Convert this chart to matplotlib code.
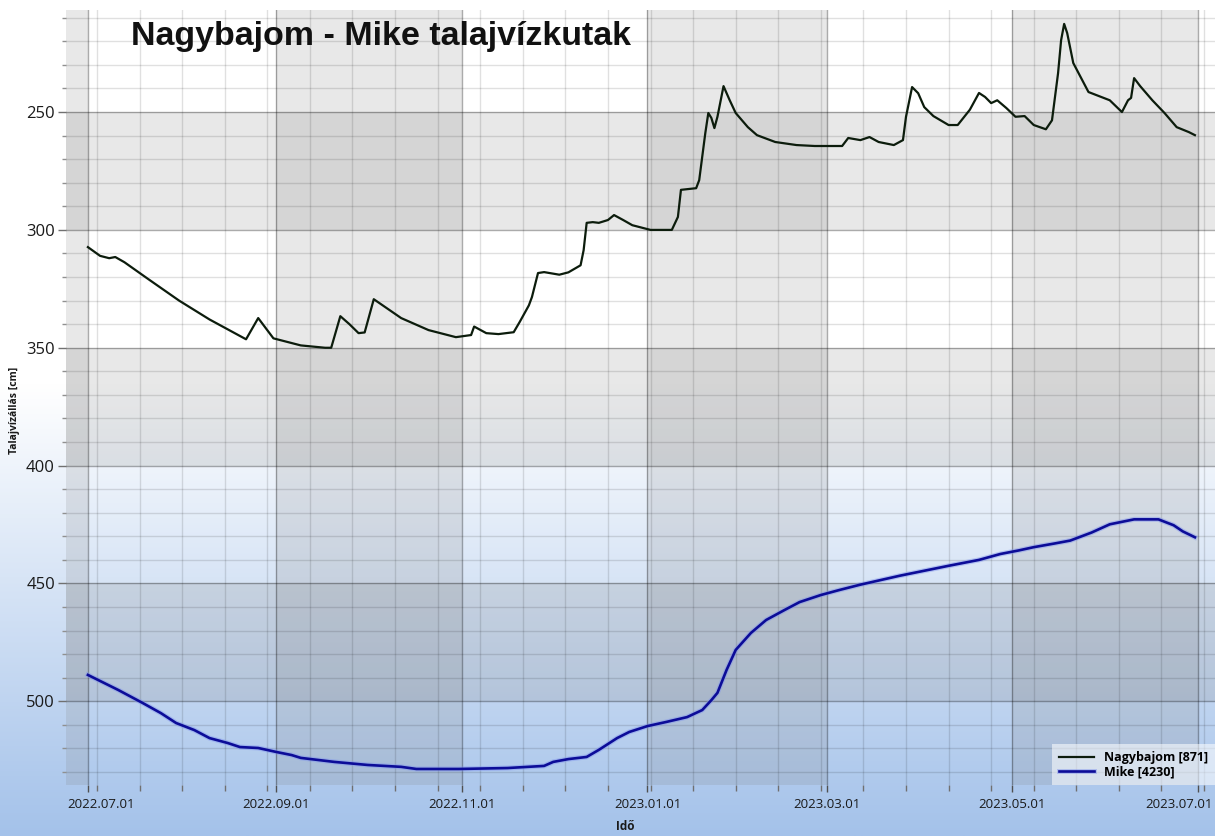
import matplotlib as mpl
mpl.use('Agg')
import numpy as np
import pandas as pd
import matplotlib.pyplot as plt
import matplotlib.dates as mdates
import matplotlib.patheffects as pe
from matplotlib import font_manager
from matplotlib.ticker import MultipleLocator
from matplotlib.transforms import ScaledTranslation

# Nagybajom [871] well, water level below surface (cm)
nagy_dates = ['2022-07-01', '2022-07-05', '2022-07-08', '2022-07-10', '2022-07-13', '2022-07-21',
              '2022-07-31', '2022-08-10', '2022-08-20', '2022-08-22', '2022-08-26', '2022-08-31',
              '2022-09-09', '2022-09-17', '2022-09-19', '2022-09-22', '2022-09-25', '2022-09-28',
              '2022-09-30', '2022-10-03', '2022-10-12', '2022-10-21', '2022-10-30', '2022-11-04',
              '2022-11-05', '2022-11-09', '2022-11-13', '2022-11-18', '2022-11-20', '2022-11-23',
              '2022-11-24', '2022-11-26', '2022-11-28', '2022-12-03', '2022-12-06', '2022-12-10',
              '2022-12-11', '2022-12-12', '2022-12-14', '2022-12-16', '2022-12-19', '2022-12-21',
              '2022-12-24', '2022-12-27', '2022-12-30', '2023-01-02', '2023-01-09', '2023-01-11',
              '2023-01-12', '2023-01-17', '2023-01-18', '2023-01-20', '2023-01-21', '2023-01-22',
              '2023-01-23', '2023-01-24', '2023-01-26', '2023-01-28', '2023-01-30', '2023-02-03',
              '2023-02-06', '2023-02-12', '2023-02-19', '2023-02-25', '2023-03-06', '2023-03-08',
              '2023-03-12', '2023-03-15', '2023-03-18', '2023-03-23', '2023-03-26', '2023-03-27',
              '2023-03-29', '2023-03-31', '2023-04-02', '2023-04-05', '2023-04-10', '2023-04-13',
              '2023-04-17', '2023-04-20', '2023-04-22', '2023-04-24', '2023-04-26', '2023-04-29',
              '2023-05-02', '2023-05-05', '2023-05-08', '2023-05-12', '2023-05-14', '2023-05-16',
              '2023-05-17', '2023-05-18', '2023-05-19', '2023-05-21', '2023-05-26', '2023-06-02',
              '2023-06-06', '2023-06-08', '2023-06-09', '2023-06-10', '2023-06-12', '2023-06-16',
              '2023-06-20', '2023-06-24', '2023-06-28', '2023-06-30']
nagy_vals = [307.3, 311.0, 312.0, 311.5, 313.7, 321.0,
             330.0, 338.0, 345.0, 346.4, 337.4, 346.0,
             349.0, 350.0, 350.0, 336.6, 340.0, 343.8,
             343.5, 329.4, 337.4, 342.5, 345.5, 344.6,
             341.0, 343.8, 344.2, 343.4, 339.0, 332.0,
             328.5, 318.3, 317.9, 319.0, 318.0, 315.0,
             308.6, 297.0, 296.7, 297.0, 295.8, 293.7,
             295.8, 298.0, 299.0, 300.0, 300.0, 294.5,
             283.0, 282.3, 278.9, 259.0, 250.4, 252.5,
             256.8, 252.0, 239.0, 244.9, 250.4, 256.4,
             259.8, 262.7, 264.0, 264.4, 264.4, 261.0,
             261.9, 260.6, 262.7, 264.0, 261.9, 252.0,
             239.4, 242.0, 247.9, 251.7, 255.5, 255.5,
             249.0, 241.9, 243.6, 246.2, 245.0, 248.3,
             252.0, 251.7, 255.5, 257.3, 253.5, 233.5,
             219.5, 212.6, 216.5, 229.2, 241.5, 245.0,
             250.0, 245.0, 244.0, 235.6, 239.0, 245.0,
             250.4, 256.4, 258.5, 259.8]

# Mike [4230] well
mike_dates = ['2022-07-01', '2022-07-11', '2022-07-19', '2022-07-25', '2022-07-30', '2022-08-05',
              '2022-08-10', '2022-08-16', '2022-08-20', '2022-08-26', '2022-09-01', '2022-09-06',
              '2022-09-09', '2022-09-20', '2022-10-01', '2022-10-12', '2022-10-17', '2022-10-31',
              '2022-11-16', '2022-11-28', '2022-12-01', '2022-12-06', '2022-12-12', '2022-12-16',
              '2022-12-22', '2022-12-26', '2023-01-01', '2023-01-07', '2023-01-14', '2023-01-19',
              '2023-01-22', '2023-01-24', '2023-01-27', '2023-01-30', '2023-02-04', '2023-02-09',
              '2023-02-15', '2023-02-20', '2023-02-27', '2023-03-05', '2023-03-12', '2023-03-25',
              '2023-04-10', '2023-04-20', '2023-04-27', '2023-05-03', '2023-05-08', '2023-05-15',
              '2023-05-20', '2023-05-27', '2023-06-02', '2023-06-10', '2023-06-18', '2023-06-23',
              '2023-06-26', '2023-06-30']
mike_vals = [488.8, 495.2, 500.7, 505.0, 509.2, 512.2,
             515.6, 517.7, 519.4, 519.8, 521.5, 522.8,
             524.0, 525.7, 527.0, 527.8, 528.7, 528.7,
             528.3, 527.4, 525.7, 524.5, 523.6, 520.6,
             515.6, 513.0, 510.5, 508.8, 506.7, 503.7,
             499.5, 496.4, 486.7, 478.2, 471.0, 465.5,
             461.3, 457.9, 454.9, 452.8, 450.5, 446.7,
             442.5, 440.0, 437.5, 436.0, 434.6, 433.0,
             431.8, 428.4, 424.9, 422.8, 422.8, 425.3,
             427.9, 430.4]

series_labels = ['Nagybajom [871]', 'Mike [4230]']
title = 'Nagybajom - Mike talajvízkutak'
ylabel = 'Talajvízállás [cm]'
xlabel = 'Idő'

installed = {f.name for f in font_manager.fontManager.ttflist}
if 'Liberation Sans Narrow' in installed:
    xtick_font, xtick_size = 'Liberation Sans Narrow', 11.5
else:
    xtick_font, xtick_size = 'Open Sans', 9.5

W, H, DPI = 1215, 836, 100
fig = plt.figure(figsize=(W / DPI, H / DPI), dpi=DPI)

# background: white at top, fading to light blue at bottom
bg = fig.add_axes([0, 0, 1, 1], zorder=-10)
bg.set_axis_off()
yy = np.linspace(0, 1, 400)[:, None]          # 0 = top, 1 = bottom
frac = np.clip((yy - 0.46) / 0.54, 0, 1)
top_c = np.array([1.0, 1.0, 1.0])
bot_c = np.array([164, 194, 234]) / 255.0
grad = top_c * (1 - frac[..., None]) + bot_c * frac[..., None]
grad = np.repeat(grad, 2, axis=1)
bg.imshow(grad, aspect='auto', extent=[0, 1, 0, 1], origin='upper')
bg.set_xlim(0, 1)
bg.set_ylim(0, 1)

ax = fig.add_axes([66 / W, 51 / H, 1 - 66 / W, (785 - 10) / H])
ax.set_facecolor('none')
for s in ax.spines.values():
    s.set_visible(False)

d_nagy = pd.to_datetime(nagy_dates)
d_mike = pd.to_datetime(mike_dates)

x0 = mdates.date2num(pd.Timestamp('2022-07-01'))
x1 = mdates.date2num(pd.Timestamp('2023-07-01'))
ax.set_xlim(x0 - 7.2, x1 + 5.6)
ax.set_ylim(535.5, 206.7)

# alternating shaded stripes (checkerboard effect)
month_edges = [mdates.date2num(pd.Timestamp(s)) for s in
               ['2022-07-01', '2022-09-01', '2022-11-01', '2023-01-01',
                '2023-03-01', '2023-05-01', '2023-07-01']]
col_spans = [(x0 - 10, month_edges[0]), (month_edges[1], month_edges[2]),
             (month_edges[3], month_edges[4]), (month_edges[5], month_edges[6])]
for a, b in col_spans:
    ax.axvspan(a, b, color='#808080', alpha=0.18, lw=0, zorder=0)
for a, b in [(250, 300), (350, 400), (450, 500)]:
    ax.axhspan(a, b, color='#808080', alpha=0.18, lw=0, zorder=0)

ax.xaxis.set_major_locator(mdates.MonthLocator(bymonth=[1, 3, 5, 7, 9, 11]))
ax.xaxis.set_minor_locator(mdates.WeekdayLocator(byweekday=mdates.MO, interval=2))
ax.xaxis.set_major_formatter(mdates.DateFormatter('%Y.%m.%d'))
ax.yaxis.set_major_locator(MultipleLocator(50))
ax.yaxis.set_minor_locator(MultipleLocator(10))

ax.grid(which='major', color='k', alpha=0.33, lw=1.0, zorder=1)
ax.grid(which='minor', color='k', alpha=0.12, lw=1.0, zorder=1)
ax.set_axisbelow(True)

ax.tick_params(axis='y', which='major', length=6, width=1, color='#707070', pad=2,
               labelsize=12, labelcolor='#1a1a1a')
ax.tick_params(axis='y', which='minor', length=3, width=1, color='#909090')
ax.tick_params(axis='x', which='major', length=5, width=1, color='#505050', pad=4,
               labelsize=xtick_size, labelcolor='#1a1a1a')
ax.tick_params(axis='x', which='minor', length=4, width=1, color='#707070')
for lab in ax.get_yticklabels():
    lab.set_family('Open Sans')
for lab in ax.get_xticklabels():
    lab.set_family(xtick_font)

ax.plot(d_nagy, nagy_vals, color='#0c1c0c', lw=1.6, label=series_labels[0], zorder=5)
ax.plot(d_mike, mike_vals, color='#0c0c98', lw=1.9, label=series_labels[1], zorder=5,
        path_effects=[pe.Stroke(linewidth=3.6, foreground='#7f93ee', alpha=0.45), pe.Normal()])

leg = ax.legend(loc='lower right', bbox_to_anchor=(1.0, 0.0), borderaxespad=0,
                prop={'family': 'Open Sans', 'weight': 'bold', 'size': 9},
                handlelength=2.8, labelspacing=0.1, borderpad=0.55, fancybox=False)
leg.get_frame().set_facecolor('white')
leg.get_frame().set_alpha(0.55)
leg.get_frame().set_edgecolor('none')

fig.text(131 / W, 1 - 45 / H, title, family='Liberation Sans', weight='bold',
         fontsize=24.5, color='#111111')
fig.text(15 / W, 1 - 410 / H, ylabel, rotation=90, ha='center', va='center',
         family='Open Sans', weight='bold', fontsize=7.5, color='#1a1a1a')
fig.text(625 / W, 1 - 826 / H, xlabel, ha='center', va='center',
         family='Open Sans', weight='bold', fontsize=8.5, color='#1a1a1a')

# first and last date labels are kept inside the plot area, as in the original
fig.canvas.draw()
for tick in ax.xaxis.get_major_ticks():
    loc = tick.get_loc()
    lab = tick.label1
    if abs(loc - x0) < 0.5:
        lab.set_ha('left')
        lab.set_transform(lab.get_transform() + ScaledTranslation(-21 / DPI, 0, fig.dpi_scale_trans))
    elif abs(loc - x1) < 0.5:
        lab.set_ha('right')
        lab.set_transform(lab.get_transform() + ScaledTranslation(15 / DPI, 0, fig.dpi_scale_trans))

fig.savefig('out.png', dpi=DPI)
